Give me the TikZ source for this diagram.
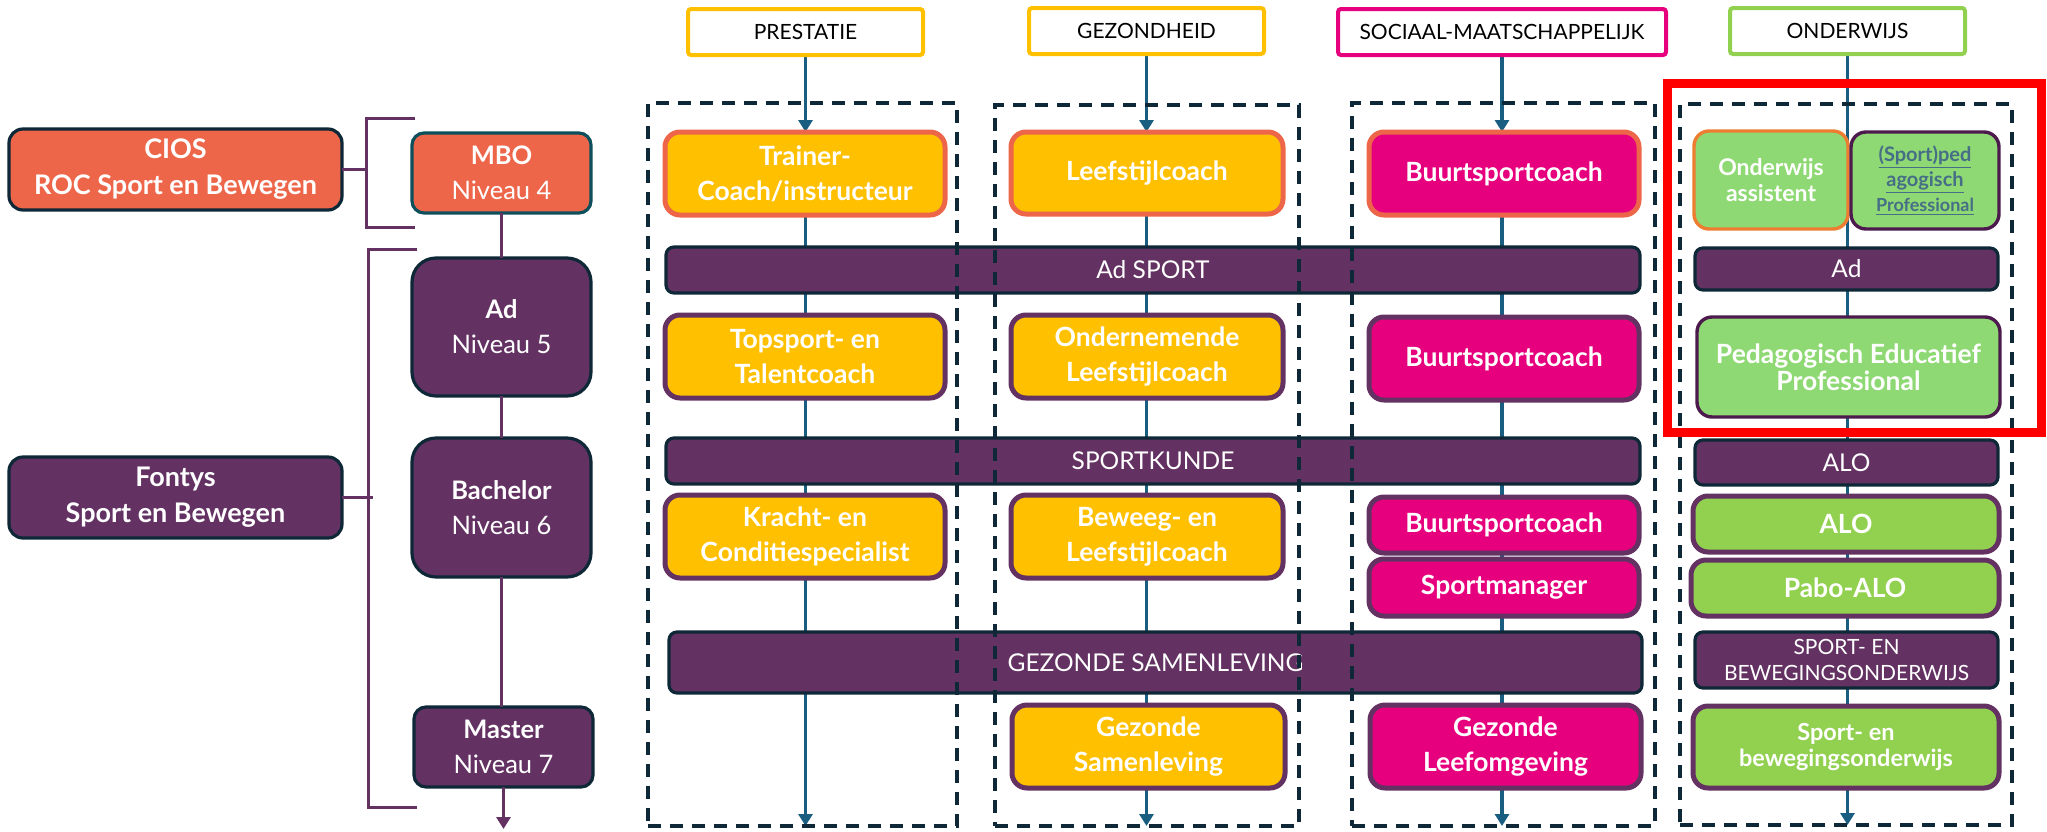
\documentclass[tikz,border=0pt]{standalone}
\usepackage{fontspec}
\setmainfont{Lato}
\usetikzlibrary{arrows.meta}
\definecolor{orng}{RGB}{238,102,74}
\definecolor{dk}{RGB}{14,40,55}
\definecolor{mbotea}{RGB}{14,79,92}
\definecolor{purp}{RGB}{99,50,99}
\definecolor{dpurp}{RGB}{76,26,76}
\definecolor{gold}{RGB}{255,192,0}
\definecolor{mag}{RGB}{230,0,126}
\definecolor{lgreen}{RGB}{142,217,115}
\definecolor{grn}{RGB}{146,208,80}
\definecolor{bline}{RGB}{25,94,128}
\definecolor{oborder}{RGB}{237,125,49}
\definecolor{linkc}{RGB}{70,110,135}
\pgfdeclarelayer{bg}
\pgfdeclarelayer{fg}
\pgfsetlayers{bg,main,fg}
\newcommand\bx[7]{%
 \pgfmathsetmacro\bxcx{(#3+#4)/2}%
 \pgfmathsetmacro\bxcy{(#5+#6)/2}%
 \pgfmathsetmacro\bxw{(#4-#3)*0.5}%
 \pgfmathsetmacro\bxh{(#6-#5)*0.5}%
 \node[#2, minimum width=\bxw pt, minimum height=\bxh pt] (#1) at (\bxcx,\bxcy) {#7};}
\tikzset{
 base/.style={inner sep=0pt, outer sep=0pt, align=center, rounded corners=7.5pt},
 hdr/.style={base, draw=#1, fill=white, line width=2pt, rounded corners=1.5pt,
   font=\fontsize{10.5}{12}\selectfont, text=black},
 cbox/.style 2 args={base, draw=#1, fill=#2, line width=2.5pt, text=white,
   font=\bfseries\fontsize{13.25}{17.5}\selectfont},
 bar/.style={base, draw=dk, fill=purp, line width=1.6pt, rounded corners=4pt, text=white,
   font=\fontsize{12.25}{13}\selectfont},
 lbox/.style 2 args={base, draw=#1, fill=#2, line width=1.6pt, text=white,
   font=\fontsize{12.75}{17.5}\selectfont},
 dbox/.style={draw=dk, line width=1.7pt, dash pattern=on 6.5pt off 4.5pt, inner sep=0pt, outer sep=0pt},
 colline/.style={draw=bline, line width=1.6pt},
 pline/.style={draw=purp, line width=1.5pt},
 tipa/.style={-{Triangle[width=7pt,length=6pt]}}
}
\begin{document}
\begin{tikzpicture}[x=0.5pt,y=-0.5pt]
\useasboundingbox (0,0) rectangle (2047,831);

% headers
\bx{hPre}{hdr=gold}{688}{923}{9}{55}{PRESTATIE}
\bx{hGez}{hdr=gold}{1029}{1264}{8}{54}{GEZONDHEID}
\bx{hSoc}{hdr=mag}{1338}{1666}{9}{55}{SOCIAAL-MAATSCHAPPELIJK}
\bx{hOnd}{hdr=grn}{1730}{1965}{8}{54}{ONDERWIJS}

% left side
\bx{cios}{lbox={dk}{orng}, rounded corners=7pt, font=\bfseries\fontsize{13.5}{18}\selectfont}{9}{342}{129}{210}{CIOS\\ROC Sport en Bewegen}
\bx{fontys}{lbox={dk}{purp}, rounded corners=7pt, font=\bfseries\fontsize{13.5}{18}\selectfont}{9}{342}{457}{538}{Fontys\\Sport en Bewegen}
\bx{mbo}{lbox={mbotea}{orng}, rounded corners=6pt}{412}{591}{133}{213}{\textbf{MBO}\\Niveau 4}
\bx{ad}{lbox={dk}{purp}, rounded corners=12pt}{412}{591}{258}{396}{\textbf{Ad}\\Niveau 5}
\bx{bach}{lbox={dk}{purp}, rounded corners=12pt}{412}{591}{438}{577}{\textbf{Bachelor}\\Niveau 6}
\bx{master}{lbox={dk}{purp}, rounded corners=6pt}{414}{593}{707}{787}{\textbf{Master}\\Niveau 7}

\coordinate (b1v) at (366,118);
\coordinate (ftick) at (373,497);
\coordinate (lbot) at (500,829);
\draw[pline] (415,118) -| (366,227) -- (415,227);
\draw[pline] (417,249) -| (368,807) -- (417,807);
\draw[pline] (cios.east) -- (cios.east -| b1v);
\draw[pline] (fontys.east) -- (fontys.east -| ftick);
\draw[pline] (mbo.south) -- (mbo.south |- ad.north);
\draw[pline] (ad.south) -- (ad.south |- bach.north);
\draw[pline] (bach.south) -- (bach.south |- master.north);
\draw[pline,tipa] (master.south) -- (master.south |- lbot);

% bars
\bx{adsport}{bar}{666}{1640}{247}{293}{Ad SPORT}
\bx{sportkunde}{bar}{666}{1640}{438}{484}{SPORTKUNDE}
\bx{gezsam}{bar}{669}{1642}{632}{693}{GEZONDE SAMENLEVING}

% PRESTATIE
\bx{trainer}{cbox={orng}{gold}}{665}{945}{132}{215}{Trainer-\\Coach/instructeur}
\bx{topsport}{cbox={purp}{gold}}{665}{945}{315}{398}{Topsport- en\\Talentcoach}
\bx{kracht}{cbox={purp}{gold}}{665}{945}{495}{578}{Kracht- en\\Conditiespecialist}

% GEZONDHEID
\bx{leef}{cbox={orng}{gold}}{1011}{1283}{132}{214}{Leefstijlcoach}
\bx{onder}{cbox={purp}{gold}}{1011}{1283}{315}{398}{Ondernemende\\Leefstijlcoach}
\bx{beweeg}{cbox={purp}{gold}}{1011}{1283}{495}{578}{Beweeg- en\\Leefstijlcoach}
\bx{gezsamb}{cbox={purp}{gold}}{1012}{1285}{705}{788}{Gezonde\\Samenleving}

% SOCIAAL
\bx{buurt1}{cbox={orng}{mag}}{1369}{1639}{132}{215}{Buurtsportcoach}
\bx{buurt2}{cbox={purp}{mag}}{1369}{1639}{317}{400}{Buurtsportcoach}
\bx{buurt3}{cbox={purp}{mag}}{1369}{1639}{497}{553}{Buurtsportcoach}
\bx{sportman}{cbox={purp}{mag}}{1369}{1639}{559}{616}{Sportmanager}
\bx{leefomg}{cbox={purp}{mag}}{1370}{1641}{705}{788}{Gezonde\\Leefomgeving}

% ONDERWIJS
\bx{onda}{cbox={oborder}{lgreen}, line width=1.7pt, font=\bfseries\fontsize{11.5}{13}\selectfont}{1694}{1848}{131}{229}{Onderwijs\\assistent}
\bx{sped}{cbox={dpurp}{lgreen}, line width=1.7pt, text=linkc, font=\bfseries\fontsize{10}{12.5}\selectfont}{1851}{1999}{132}{229}{\underline{(Sport)ped}\\\underline{agogisch}\\{\fontsize{9}{10}\selectfont\underline{Professional}}}
\bx{adbar}{bar}{1695}{1998}{248}{290}{Ad}
\bx{pep}{cbox={dpurp}{lgreen}, line width=1.7pt, font=\bfseries\fontsize{13.25}{13.5}\selectfont}{1697}{2000}{317}{417}{Pedagogisch Educatief\\Professional}
\bx{alobar}{bar}{1695}{1998}{440}{485}{ALO}
\bx{alo}{cbox={purp}{grn}}{1693}{1999}{496}{552}{ALO}
\bx{pabo}{cbox={purp}{grn}}{1691}{1999}{560}{616}{Pabo-ALO}
\bx{sbbar}{bar, font=\fontsize{10.5}{13}\selectfont}{1695}{1998}{632}{688}{SPORT- EN\\BEWEGINGSONDERWIJS}
\bx{sbo}{cbox={purp}{grn}, font=\bfseries\fontsize{11.75}{13}\selectfont}{1693}{1999}{706}{788}{Sport- en\\bewegingsonderwijs}

% dashed groups and red frame on top
\begin{pgfonlayer}{fg}
\bx{dPre}{dbox}{648}{957}{103}{826}{}
\bx{dGez}{dbox}{995}{1299}{105}{826}{}
\bx{dSoc}{dbox}{1352}{1655}{103}{826}{}
\bx{dOnd}{dbox}{1680}{2012}{104}{825}{}
\bx{redbox}{draw=red, line width=4.5pt, inner sep=0pt, outer sep=0pt}{1667}{2041}{83}{432}{}
\end{pgfonlayer}

% column lines behind boxes
\begin{pgfonlayer}{bg}
\draw[colline,tipa] (hPre.south) -- (hPre.south |- trainer.north);
\draw[colline,tipa] (hPre.south |- trainer.south) -- (hPre.south |- dPre.south);
\draw[colline,tipa] (hGez.south) -- (hGez.south |- leef.north);
\draw[colline,tipa] (hGez.south |- leef.south) -- (hGez.south |- dGez.south);
\draw[colline,tipa] (hSoc.south) -- (hSoc.south |- buurt1.north);
\draw[colline,tipa] (hSoc.south |- buurt1.south) -- (hSoc.south |- dSoc.south);
\draw[colline,tipa] (hOnd.south) -- (hOnd.south |- dOnd.south);
\end{pgfonlayer}
\end{tikzpicture}
\end{document}
